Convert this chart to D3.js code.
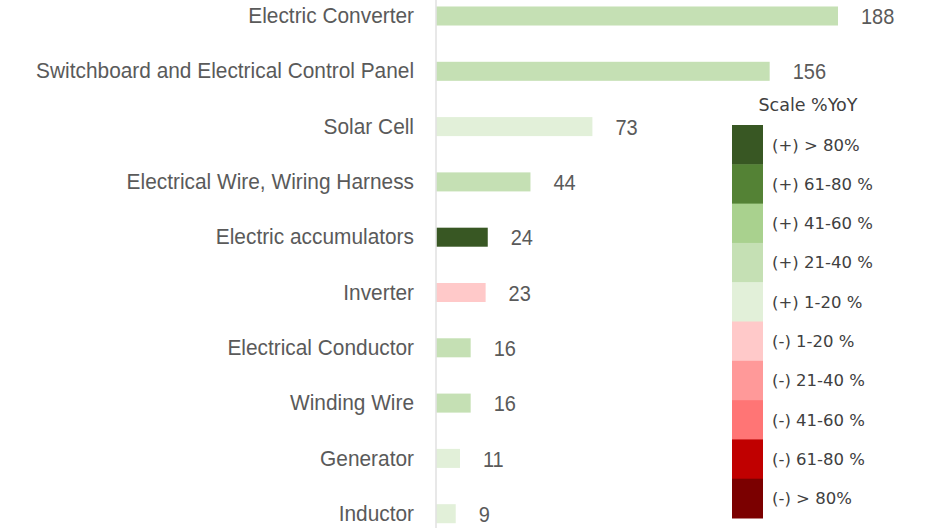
<!DOCTYPE html>
<html>
<head>
<meta charset="utf-8">
<script src="https://cdn.jsdelivr.net/npm/d3@7"></script>
<style>
  html, body { margin: 0; padding: 0; background: #fff; }
  svg { display: block; }
</style>
</head>
<body>
<svg id="chart" width="934" height="528"></svg>
<script>
const categories = [
  "Electric Converter",
  "Switchboard and Electrical Control Panel",
  "Solar Cell",
  "Electrical Wire, Wiring Harness",
  "Electric accumulators",
  "Inverter",
  "Electrical Conductor",
  "Winding Wire",
  "Generator",
  "Inductor"
];
const values = [188, 156, 73, 44, 24, 23, 16, 16, 11, 9];
const yoyClass = ["(+) 21-40 %", "(+) 21-40 %", "(+) 1-20 %", "(+) 21-40 %", "(+) > 80%",
                  "(-) 1-20 %", "(+) 21-40 %", "(+) 21-40 %", "(+) 1-20 %", "(+) 1-20 %"];

const legendTitle = "Scale %YoY";
const legendLabels = ["(+) > 80%", "(+) 61-80 %", "(+) 41-60 %", "(+) 21-40 %", "(+) 1-20 %",
                      "(-) 1-20 %", "(-) 21-40 %", "(-) 41-60 %", "(-) 61-80 %", "(-) > 80%"];
const legendColors = ["#385723", "#548235", "#a9d18e", "#c5e0b4", "#e2f0d9",
                      "#ffc9c9", "#ff9999", "#ff7575", "#c00000", "#7b0000"];

const svg = d3.select("#chart");
const W = 934, H = 528;

const color = d3.scaleOrdinal().domain(legendLabels).range(legendColors);

const x = d3.scaleLinear().domain([0, 188]).range([436.5, 838]);
const y = d3.scaleBand().domain(categories).range([-11.65, 541.35])
  .paddingInner(0.656).paddingOuter(0.328);

const textCol = "#5a5a5a";
const labelFont = "'Liberation Sans', Arial, sans-serif";

// bars
svg.append("g").selectAll("rect").data(categories).join("rect")
  .attr("x", x(0))
  .attr("y", d => y(d))
  .attr("width", (d, i) => x(values[i]) - x(0))
  .attr("height", y.bandwidth())
  .attr("fill", (d, i) => color(yoyClass[i]));

// axis line
svg.append("line")
  .attr("x1", 436).attr("x2", 436).attr("y1", 0).attr("y2", H)
  .attr("stroke", "#d9d9d9").attr("stroke-width", 1.2);

// category labels
const catG = svg.append("g").attr("transform", "translate(414,0)");
const yAxis = d3.axisLeft(y).tickSize(0).tickPadding(0);
catG.call(yAxis);
catG.select(".domain").remove();
catG.selectAll("text")
  .attr("font-family", labelFont)
  .attr("font-size", 21.5)
  .attr("fill", textCol)
  .attr("dy", "0.33em")
  .each(function() {
    const len = this.getComputedTextLength();
    d3.select(this).attr("textLength", len * 0.97).attr("lengthAdjust", "spacingAndGlyphs");
  });

// value labels
svg.append("g").selectAll("text").data(categories).join("text")
  .attr("x", (d, i) => x(values[i]) + 23)
  .attr("y", d => y(d) + y.bandwidth() / 2)
  .attr("dy", "0.38em")
  .attr("font-family", labelFont)
  .attr("font-size", 21.5)
  .attr("fill", textCol)
  .text((d, i) => values[i])
  .each(function() {
    const len = this.getComputedTextLength();
    d3.select(this).attr("textLength", len * 0.93).attr("lengthAdjust", "spacingAndGlyphs");
  });

// legend
const lg = svg.append("g");
const ly = d3.scaleBand().domain(legendLabels).range([125, 518]).padding(0);
lg.selectAll("rect").data(legendLabels).join("rect")
  .attr("x", 732).attr("y", d => ly(d))
  .attr("width", 31).attr("height", ly.bandwidth() + 0.5)
  .attr("fill", d => color(d));
lg.selectAll("text.lab").data(legendLabels).join("text")
  .attr("class", "lab")
  .attr("x", 772)
  .attr("y", d => ly(d) + ly.bandwidth() / 2)
  .attr("dy", "0.36em")
  .attr("font-family", "'DejaVu Sans', sans-serif")
  .attr("font-size", 16.5)
  .attr("fill", "#404040")
  .text(d => d);
lg.append("text")
  .attr("x", 808).attr("y", 111)
  .attr("text-anchor", "middle")
  .attr("font-family", "'DejaVu Sans', sans-serif")
  .attr("font-size", 17.5)
  .attr("fill", "#404040")
  .text(legendTitle);
</script>
</body>
</html>
